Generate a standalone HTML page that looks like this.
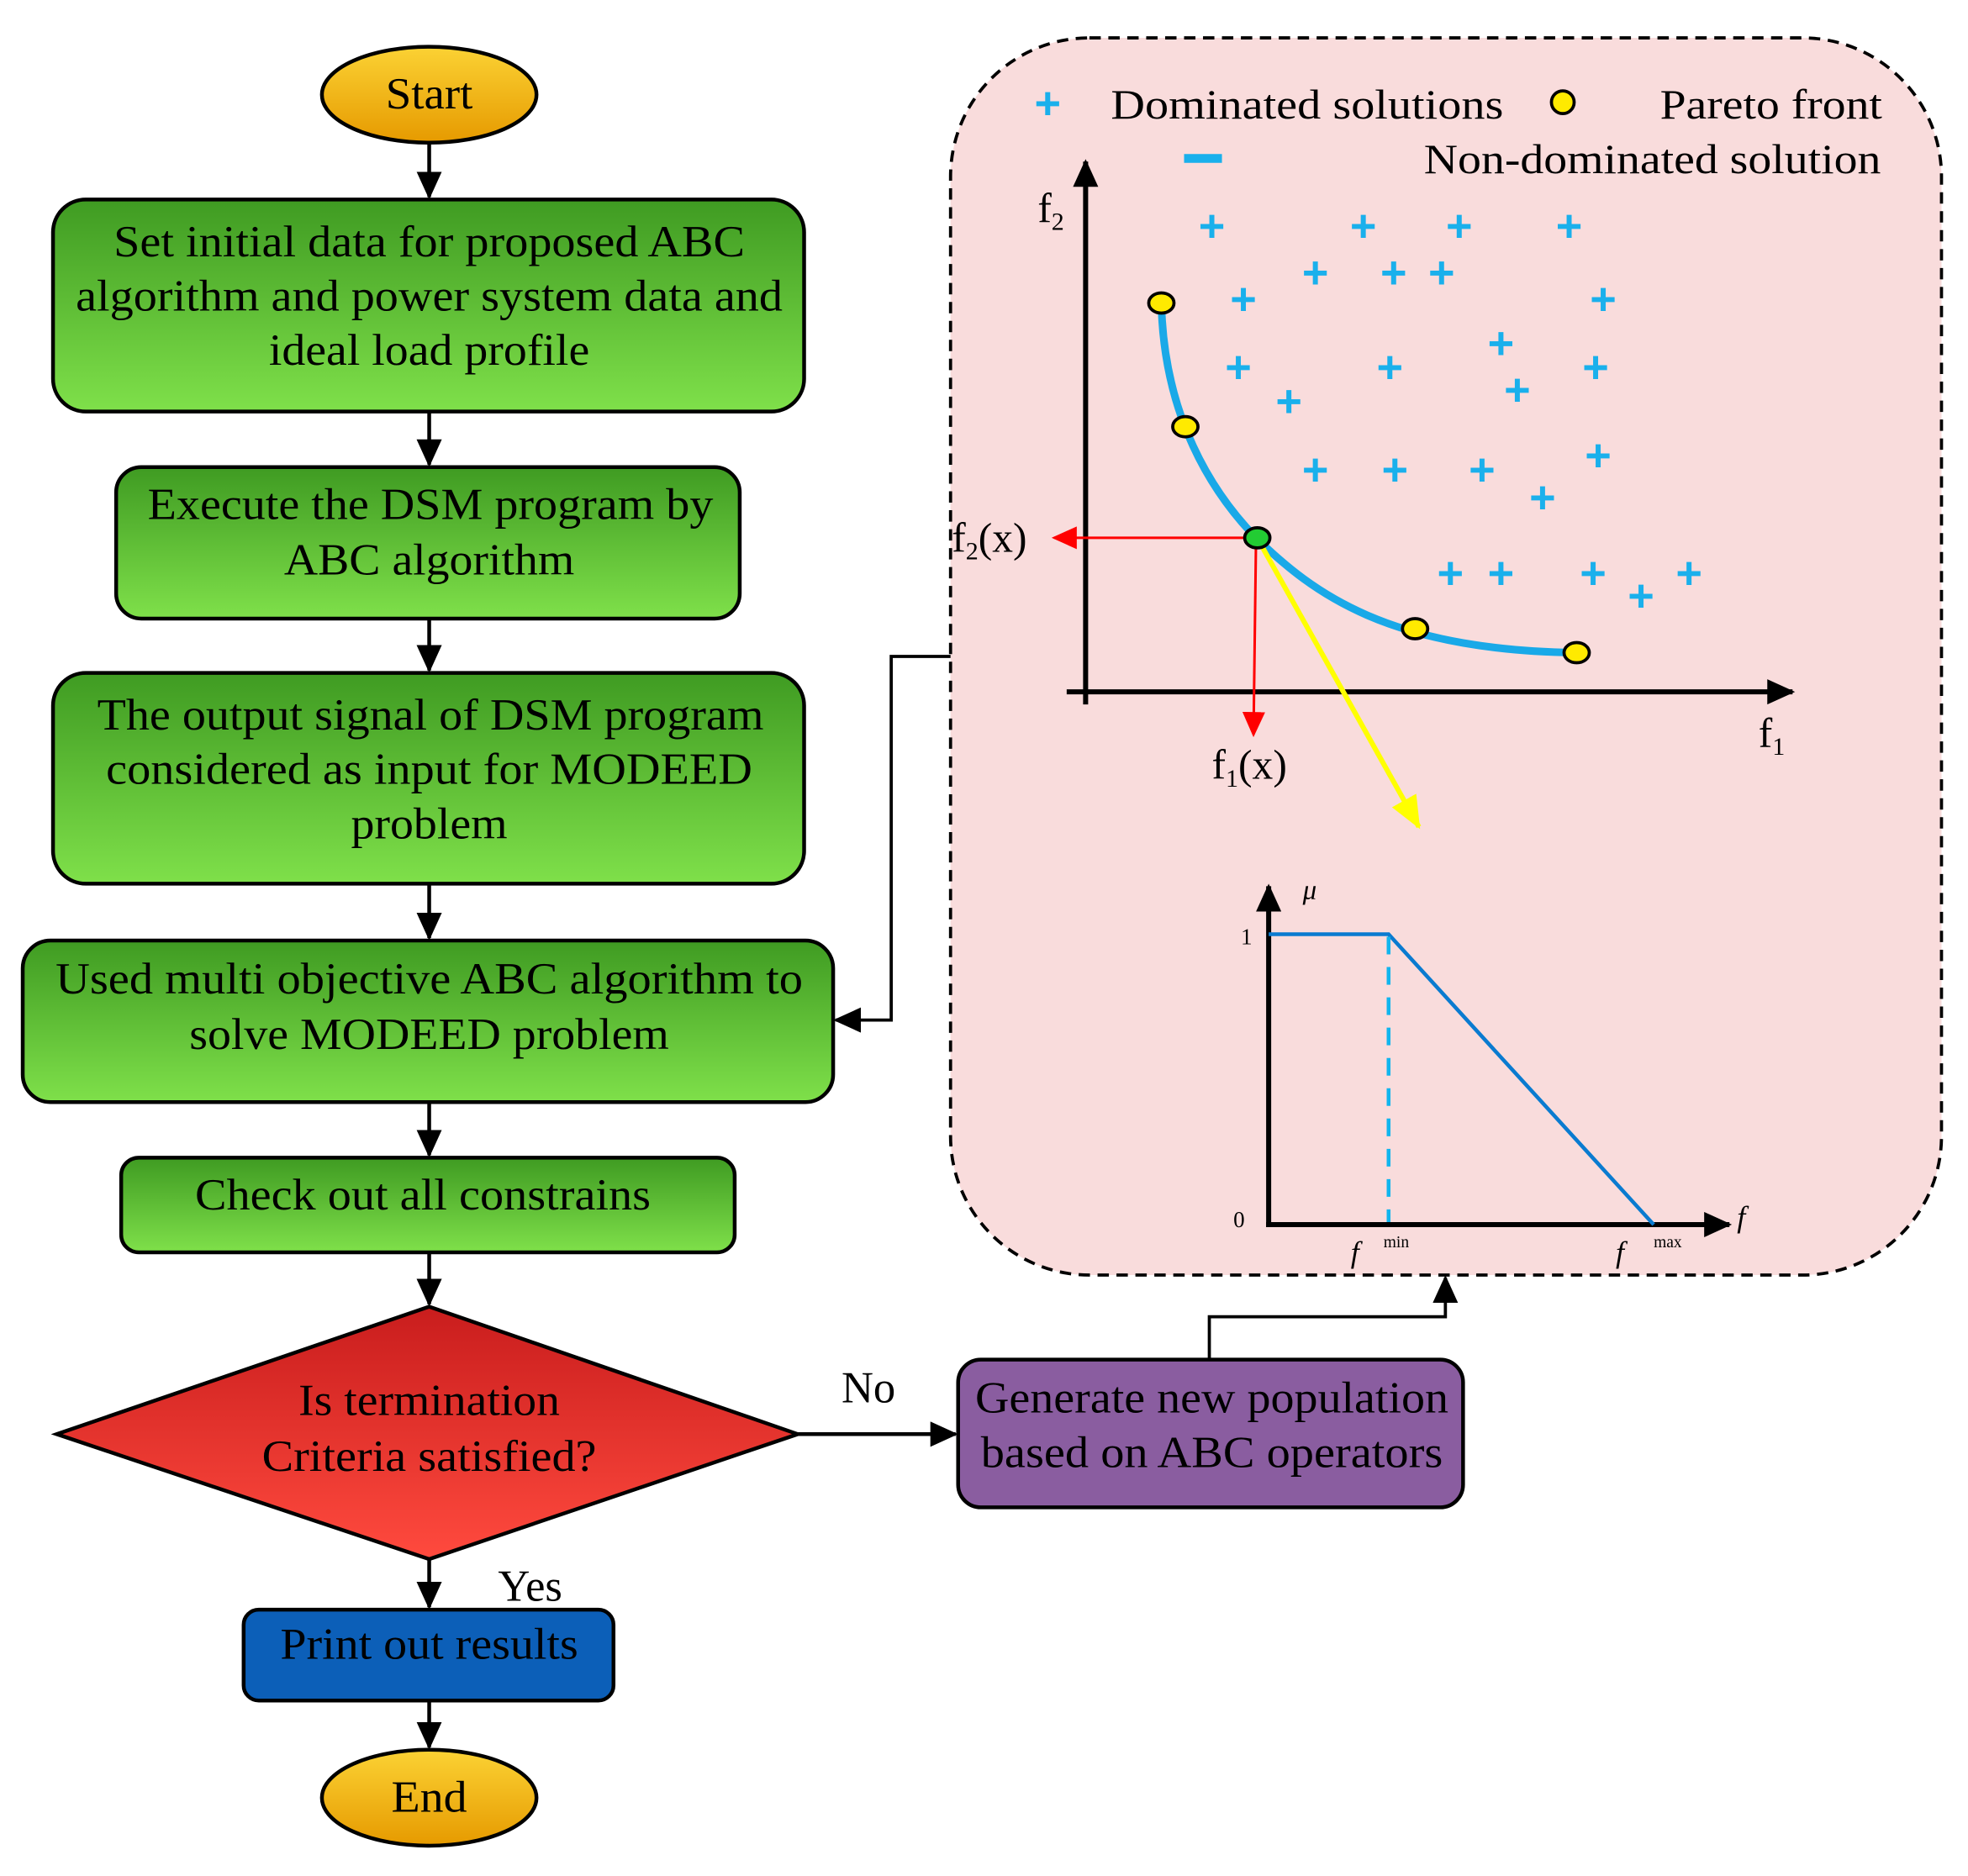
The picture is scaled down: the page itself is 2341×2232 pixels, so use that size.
<!DOCTYPE html>
<html><head><meta charset="utf-8"><style>html,body{margin:0;padding:0;background:#fff}svg{display:block}</style></head>
<body>
<svg width="2341" height="2232" viewBox="0 0 1559 1486" preserveAspectRatio="none" xmlns="http://www.w3.org/2000/svg" font-family="Liberation Serif, serif">
<defs>
<linearGradient id="g" x1="0" y1="0" x2="0" y2="1"><stop offset="0" stop-color="#3f9b22"/><stop offset="1" stop-color="#7fe04a"/></linearGradient>
<linearGradient id="o" x1="0" y1="0" x2="0" y2="1"><stop offset="0" stop-color="#fbd234"/><stop offset="1" stop-color="#e69a00"/></linearGradient>
<linearGradient id="r" x1="0" y1="0" x2="0" y2="1"><stop offset="0" stop-color="#c91d1d"/><stop offset="1" stop-color="#ff4a3e"/></linearGradient>
<marker id="ab" markerWidth="22" markerHeight="20" refX="20" refY="10" orient="auto" markerUnits="userSpaceOnUse"><path d="M0,0 L22,10 L0,20 z" fill="#000"/></marker>
<marker id="ar" markerWidth="20" markerHeight="18" refX="18" refY="9" orient="auto" markerUnits="userSpaceOnUse"><path d="M0,0 L20,9 L0,18 z" fill="#f00"/></marker>
<marker id="ay" markerWidth="26" markerHeight="22" refX="24" refY="11" orient="auto" markerUnits="userSpaceOnUse"><path d="M0,0 L26,11 L0,22 z" fill="#ff0"/></marker>
</defs>
<rect x="753" y="30" width="785" height="980" rx="110" fill="#f9dcdc" stroke="#000" stroke-width="2.5" stroke-dasharray="9,6"/>
<g stroke="#000" stroke-width="3" fill="none">
<line x1="340" y1="113" x2="340" y2="156" marker-end="url(#ab)"/>
<line x1="340" y1="326" x2="340" y2="368" marker-end="url(#ab)"/>
<line x1="340" y1="490" x2="340" y2="531" marker-end="url(#ab)"/>
<line x1="340" y1="700" x2="340" y2="743" marker-end="url(#ab)"/>
<line x1="340" y1="873" x2="340" y2="915" marker-end="url(#ab)"/>
<line x1="340" y1="992" x2="340" y2="1033" marker-end="url(#ab)"/>
<line x1="340" y1="1235" x2="340" y2="1273" marker-end="url(#ab)"/>
<line x1="340" y1="1347" x2="340" y2="1384" marker-end="url(#ab)"/>
<line x1="632" y1="1136" x2="757" y2="1136" marker-end="url(#ab)"/>
<polyline points="753,520 706,520 706,808 662,808" marker-end="url(#ab)" stroke-width="2.5"/>
<polyline points="958,1077 958,1043 1145,1043 1145,1012" marker-end="url(#ab)" stroke-width="2.5"/>
</g>
<g stroke="#000" stroke-width="3">
<ellipse cx="340" cy="75" rx="85" ry="38" fill="url(#o)"/>
<rect x="42" y="158" width="595" height="168" rx="26" fill="url(#g)"/>
<rect x="92" y="370" width="494" height="120" rx="20" fill="url(#g)"/>
<rect x="42" y="533" width="595" height="167" rx="26" fill="url(#g)"/>
<rect x="18" y="745" width="642" height="128" rx="22" fill="url(#g)"/>
<rect x="96" y="917" width="486" height="75" rx="14" fill="url(#g)"/>
<polygon points="45,1136 340,1035 632,1136 340,1235" fill="url(#r)"/>
<rect x="193" y="1275" width="293" height="72" rx="12" fill="#0c5fb8"/>
<ellipse cx="340" cy="1424" rx="85" ry="38" fill="url(#o)"/>
<rect x="759" y="1077" width="400" height="117" rx="18" fill="#8a5da0"/>
</g>
<g font-size="35" text-anchor="middle" fill="#000" lengthAdjust="spacingAndGlyphs">
<text x="340" y="86" textLength="69" lengthAdjust="spacingAndGlyphs">Start</text>
<text x="340" y="203" textLength="500" lengthAdjust="spacingAndGlyphs">Set initial data for proposed ABC</text>
<text x="340" y="246" textLength="560" lengthAdjust="spacingAndGlyphs">algorithm and power system data and</text>
<text x="340" y="289" textLength="254" lengthAdjust="spacingAndGlyphs">ideal load profile</text>
<text x="341" y="411" textLength="448" lengthAdjust="spacingAndGlyphs">Execute the DSM program by</text>
<text x="340" y="455" textLength="230" lengthAdjust="spacingAndGlyphs">ABC algorithm</text>
<text x="341" y="578" textLength="528" lengthAdjust="spacingAndGlyphs">The output signal of DSM program</text>
<text x="340" y="621" textLength="512" lengthAdjust="spacingAndGlyphs">considered as input for MODEED</text>
<text x="340" y="664" textLength="124" lengthAdjust="spacingAndGlyphs">problem</text>
<text x="340" y="787" textLength="592" lengthAdjust="spacingAndGlyphs">Used multi objective ABC algorithm to</text>
<text x="340" y="831" textLength="380" lengthAdjust="spacingAndGlyphs">solve MODEED problem</text>
<text x="335" y="958" textLength="361" lengthAdjust="spacingAndGlyphs">Check out all constrains</text>
<text x="340" y="1121" textLength="207" lengthAdjust="spacingAndGlyphs">Is termination</text>
<text x="340" y="1165" textLength="265" lengthAdjust="spacingAndGlyphs">Criteria satisfied?</text>
<text x="340" y="1314" textLength="236" lengthAdjust="spacingAndGlyphs">Print out results</text>
<text x="340" y="1435" textLength="60" lengthAdjust="spacingAndGlyphs">End</text>
<text x="960" y="1119" textLength="375" lengthAdjust="spacingAndGlyphs">Generate new population</text>
<text x="960" y="1162" textLength="366" lengthAdjust="spacingAndGlyphs">based on ABC operators</text>
<text x="688" y="1111">No</text>
<text x="420" y="1268">Yes</text>
</g>
<g fill="#1ab0ec" font-size="36" font-weight="bold" font-family="Liberation Sans, sans-serif" text-anchor="middle">
<text x="830" y="94">+</text>
</g>
<rect x="938" y="122" width="30" height="7" fill="#1ab0ec"/>
<circle cx="1238" cy="81" r="9" fill="#ffea00" stroke="#000" stroke-width="2.5"/>
<g font-size="33" fill="#000">
<text x="880" y="94" textLength="311" lengthAdjust="spacingAndGlyphs">Dominated solutions</text>
<text x="1315" y="94" textLength="176" lengthAdjust="spacingAndGlyphs">Pareto front</text>
<text x="1128" y="137" textLength="362" lengthAdjust="spacingAndGlyphs">Non-dominated solution</text>
<text x="822" y="176">f<tspan font-size="20" dy="6">2</tspan></text>
<text x="1393" y="592">f<tspan font-size="20" dy="6">1</tspan></text>
<text x="754" y="437">f<tspan font-size="20" dy="6">2</tspan><tspan dy="-6">(x)</tspan></text>
<text x="960" y="617">f<tspan font-size="20" dy="6">1</tspan><tspan dy="-6">(x)</tspan></text>
</g>
<g stroke="#000" stroke-width="4" fill="none">
<line x1="860" y1="558" x2="860" y2="128" marker-end="url(#ab)"/>
<line x1="845" y1="548" x2="1420" y2="548" marker-end="url(#ab)"/>
</g>
<path d="M920,240 C922,330 960,390 995,426 C1040,470 1100,515 1248,517" stroke="#19a9e8" stroke-width="6" fill="none"/>
<g stroke="#f00" stroke-width="2" fill="none">
<line x1="995" y1="426" x2="835" y2="426" marker-end="url(#ar)"/>
<line x1="995" y1="426" x2="993" y2="582" marker-end="url(#ar)"/>
</g>
<line x1="997" y1="428" x2="1124" y2="655" stroke="#ff0" stroke-width="4" marker-end="url(#ay)"/>
<g fill="#ffea00" stroke="#000" stroke-width="2.5">
<ellipse cx="920" cy="240" rx="10" ry="8"/>
<ellipse cx="939" cy="338" rx="10" ry="8"/>
<ellipse cx="1121" cy="498" rx="10" ry="8"/>
<ellipse cx="1249" cy="517" rx="10" ry="8"/>
<ellipse cx="996" cy="426" rx="10" ry="8" fill="#22cc33"/>
</g>
<g fill="#1ab0ec" font-size="36" font-weight="bold" font-family="Liberation Sans, sans-serif" text-anchor="middle">
<text x="960" y="191">+</text><text x="1080" y="191">+</text><text x="1156" y="191">+</text><text x="1243" y="191">+</text>
<text x="1042" y="228">+</text><text x="1104" y="228">+</text><text x="1142" y="228">+</text>
<text x="985" y="249">+</text><text x="1270" y="249">+</text>
<text x="1189" y="284">+</text>
<text x="981" y="303">+</text><text x="1101" y="303">+</text><text x="1264" y="303">+</text>
<text x="1202" y="321">+</text><text x="1021" y="330">+</text>
<text x="1266" y="373">+</text>
<text x="1042" y="384">+</text><text x="1105" y="384">+</text><text x="1174" y="384">+</text>
<text x="1222" y="406">+</text>
<text x="1149" y="466">+</text><text x="1189" y="466">+</text><text x="1262" y="466">+</text><text x="1338" y="466">+</text>
<text x="1300" y="484">+</text>
</g>
<g stroke="#000" stroke-width="4" fill="none">
<line x1="1005" y1="972" x2="1005" y2="702" marker-end="url(#ab)"/>
<line x1="1003" y1="970" x2="1370" y2="970" marker-end="url(#ab)"/>
</g>
<polyline points="1005,740 1100,740 1310,970" stroke="#0a7bd0" stroke-width="3" fill="none"/>
<line x1="1100" y1="742" x2="1100" y2="968" stroke="#11b5ee" stroke-width="3" stroke-dasharray="14,10"/>
<g font-size="18" fill="#000">
<text x="983" y="748">1</text>
<text x="977" y="972">0</text>
<text x="1032" y="712" font-style="italic" font-size="22">μ</text>
<text x="1376" y="972" font-style="italic" font-size="24">f</text>
<text x="1070" y="1000" font-style="italic" font-size="24">f</text>
<text x="1096" y="988" font-size="13">min</text>
<text x="1280" y="1000" font-style="italic" font-size="24">f</text>
<text x="1310" y="988" font-size="13">max</text>
</g>
</svg>
</body></html>
